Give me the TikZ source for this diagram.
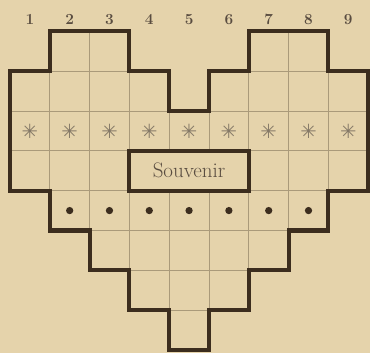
\documentclass[tikz,border=0pt]{standalone}
\usepackage{fontspec}
\newfontfamily\dejavu{DejaVu Sans}
\usetikzlibrary{positioning}
\definecolor{paper}{RGB}{229,211,171}
\definecolor{ink}{RGB}{60,45,30}
\definecolor{rulec}{RGB}{170,154,122}
\definecolor{starc}{RGB}{132,120,102}

\begin{document}
\begin{tikzpicture}
    [node distance=1cm,
    border/.style={line width=2.9pt, draw=ink, line join=miter},
    gridline/.style={line width=0.55pt, draw=rulec},
    num/.style={font=\fontsize{11}{12}\selectfont\bfseries, text=ink!85},
    flake/.style={font=\dejavu\fontsize{14}{15}\selectfont, text=starc},
    dot/.style={circle, fill=ink, inner sep=0pt, minimum size=5.2pt},
    label box/.style={border, fill=paper, inner sep=0pt, minimum width=3cm, minimum height=1cm,
        font=\fontsize{15}{17}\selectfont, text=ink!85}]
    \useasboundingbox[fill=paper] (-0.25,-0.075) rectangle (9.045,8.79);

    \node[num] (c1) at (0.5,8.3) {1};
    \node[num, right of = c1] (c2) {2};
    \node[num, right of = c2] (c3) {3};
    \node[num, right of = c3] (c4) {4};
    \node[num, right of = c4] (c5) {5};
    \node[num, right of = c5] (c6) {6};
    \node[num, right of = c6] (c7) {7};
    \node[num, right of = c7] (c8) {8};
    \node[num, right of = c8] (c9) {9};

    \begin{scope}
        \clip (0,4) -- (0,7) -- (1,7) -- (1,8) -- (3,8) -- (3,7) -- (4,7) -- (4,6) -- (5,6) -- (5,7)
            -- (6,7) -- (6,8) -- (8,8) -- (8,7) -- (9,7) -- (9,4) -- (8,4) -- (8,3) -- (7,3) -- (7,2)
            -- (6,2) -- (6,1) -- (5,1) -- (5,0) -- (4,0) -- (4,1) -- (3,1) -- (3,2) -- (2,2) -- (2,3)
            -- (1,3) -- (1,4) -- cycle;
        \draw[gridline] (0,0) grid (9,8);
    \end{scope}

    \foreach \i in {1,...,9}
        \node[flake] (s\i) at (\i-0.5,5.5) {✳};
    \foreach \i in {2,...,8}
        \node[dot] (d\i) at (\i-0.5,3.5) {};

    \node[label box] (souvenir) at (4.5,4.5) {Souvenir};

    \draw[border] (0,4) -- (0,7) -- (1,7) -- (1,8) -- (3,8) -- (3,7) -- (4,7) -- (4,6) -- (5,6) -- (5,7)
        -- (6,7) -- (6,8) -- (8,8) -- (8,7) -- (9,7) -- (9,4) -- (8,4) -- (8,3) -- (7,3) -- (7,2)
        -- (6,2) -- (6,1) -- (5,1) -- (5,0) -- (4,0) -- (4,1) -- (3,1) -- (3,2) -- (2,2) -- (2,3)
        -- (1,3) -- (1,4) -- cycle;
\end{tikzpicture}
\end{document}
